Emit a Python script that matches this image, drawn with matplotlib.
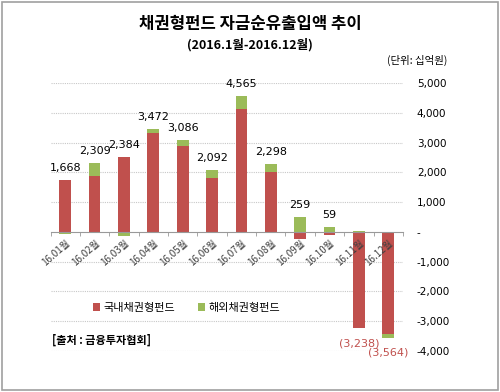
import matplotlib
matplotlib.use("Agg")
import matplotlib.pyplot as plt
from matplotlib.patches import Patch, Rectangle
from matplotlib.ticker import FixedLocator, FixedFormatter

plt.rcParams['font.family'] = ['Noto Sans CJK KR', 'DejaVu Sans']

months = ['16.01월', '16.02월', '16.03월', '16.04월', '16.05월', '16.06월',
          '16.07월', '16.08월', '16.09월', '16.10월', '16.11월', '16.12월']
domestic = [1740, 1880, 2530, 3330, 2896, 1797, 4130, 2020, -246, -100, -3250, -3440]
foreign = [-72, 429, -146, 142, 190, 295, 435, 278, 505, 159, 12, -124]
totals = [1668, 2309, 2384, 3472, 3086, 2092, 4565, 2298, 259, 59, -3238, -3564]
yticks = [5000, 4000, 3000, 2000, 1000, 0, -1000, -2000, -3000, -4000]
ytick_labels = ['5,000', '4,000', '3,000', '2,000', '1,000', '-', '-1,000', '-2,000', '-3,000', '-4,000']
series_names = ['국내채권형펀드', '해외채권형펀드']

RED = '#C0504D'
GREEN = '#9BBB59'

fig = plt.figure(figsize=(5.0, 3.92), dpi=100)
fig.patch.set_facecolor('white')
fig.add_artist(Rectangle((0.004, 0.004), 0.992, 0.992, transform=fig.transFigure,
                         fill=False, edgecolor='#A0A0A0', linewidth=1.2))

ax = fig.add_axes([0.101, 0.1054, 0.705, 0.6821])
x = list(range(len(months)))
w = 0.4
for i in x:
    d = domestic[i]
    f = foreign[i]
    ax.bar(i, d, width=w, color=RED, zorder=3)
    if (f >= 0) == (d >= 0):
        ax.bar(i, f, width=w, bottom=d, color=GREEN, zorder=3)
    else:
        ax.bar(i, f, width=w, bottom=0, color=GREEN, zorder=3)

for i, t in enumerate(totals):
    d = domestic[i]
    f = foreign[i]
    if t >= 0:
        if d >= 0 and f >= 0:
            top = d + f
        else:
            top = max(d, f, 0)
        ax.text(i, top + 400, f'{t:,}', ha='center', va='center', fontsize=8, color='black',
                family=['DejaVu Sans'])
    else:
        bottom = d + min(f, 0)
        ax.text(i, bottom - 500, f'({abs(t):,})', ha='center', va='center',
                fontsize=8, color='#C0504D', family=['DejaVu Sans'])

ax.set_xlim(-0.5, 11.5)
ax.set_ylim(-4000, 5000)

for s in ['left', 'top', 'right']:
    ax.spines[s].set_visible(False)
ax.spines['bottom'].set_position(('data', 0))
ax.spines['bottom'].set_color('#999999')
ax.spines['bottom'].set_zorder(4)
ax.xaxis.set_zorder(5)

ax.xaxis.set_major_locator(FixedLocator(x))
ax.xaxis.set_major_formatter(FixedFormatter(months))
ax.xaxis.set_minor_locator(FixedLocator([i - 0.5 for i in range(13)]))
ax.tick_params(axis='x', which='major', length=0, pad=4, labelsize=7, labelcolor='#404040')
ax.tick_params(axis='x', which='minor', length=3, color='#999999', direction='out')
for lbl in ax.get_xticklabels():
    lbl.set_rotation(42)
    lbl.set_ha('right')
    lbl.set_rotation_mode('anchor')
    lbl.set_family(['Noto Sans CJK KR', 'DejaVu Sans'])
    lbl.set_zorder(6)

ax.yaxis.tick_right()
ax.yaxis.set_major_locator(FixedLocator(yticks))
ax.yaxis.set_major_formatter(FixedFormatter(ytick_labels))
ax.tick_params(axis='y', length=0, pad=10, labelsize=7.5)
for lbl in ax.get_yticklabels():
    lbl.set_ha('left')
    lbl.set_family(['DejaVu Sans'])

for yv in yticks:
    if yv != 0:
        ax.axhline(yv, color='#C8C8C8', linestyle=(0, (1, 1)), linewidth=0.8, zorder=1)

fig.text(0.5, 0.938, '채권형펀드 자금순유출입액 추이', ha='center', va='center',
         fontsize=12, fontweight='bold')
fig.text(0.5, 0.885, '(2016.1월-2016.12월)', ha='center', va='center',
         fontsize=9, fontweight='bold')
fig.text(0.774, 0.847, '(단위: 십억원)', ha='left', va='center', fontsize=7.5)

handles = [Patch(facecolor=RED, edgecolor='none'), Patch(facecolor=GREEN, edgecolor='none')]
fig.legend(handles, series_names, loc='center left', bbox_to_anchor=(0.165, 0.215),
           ncol=2, frameon=False, fontsize=8, handlelength=0.7, handleheight=0.7,
           handletextpad=0.3, columnspacing=2.0)

fig.text(0.105, 0.133, '[출처 : 금융투자협회]', ha='left', va='center', fontsize=8,
         fontweight='bold')

fig.savefig('out.png', dpi=100, facecolor='white')
